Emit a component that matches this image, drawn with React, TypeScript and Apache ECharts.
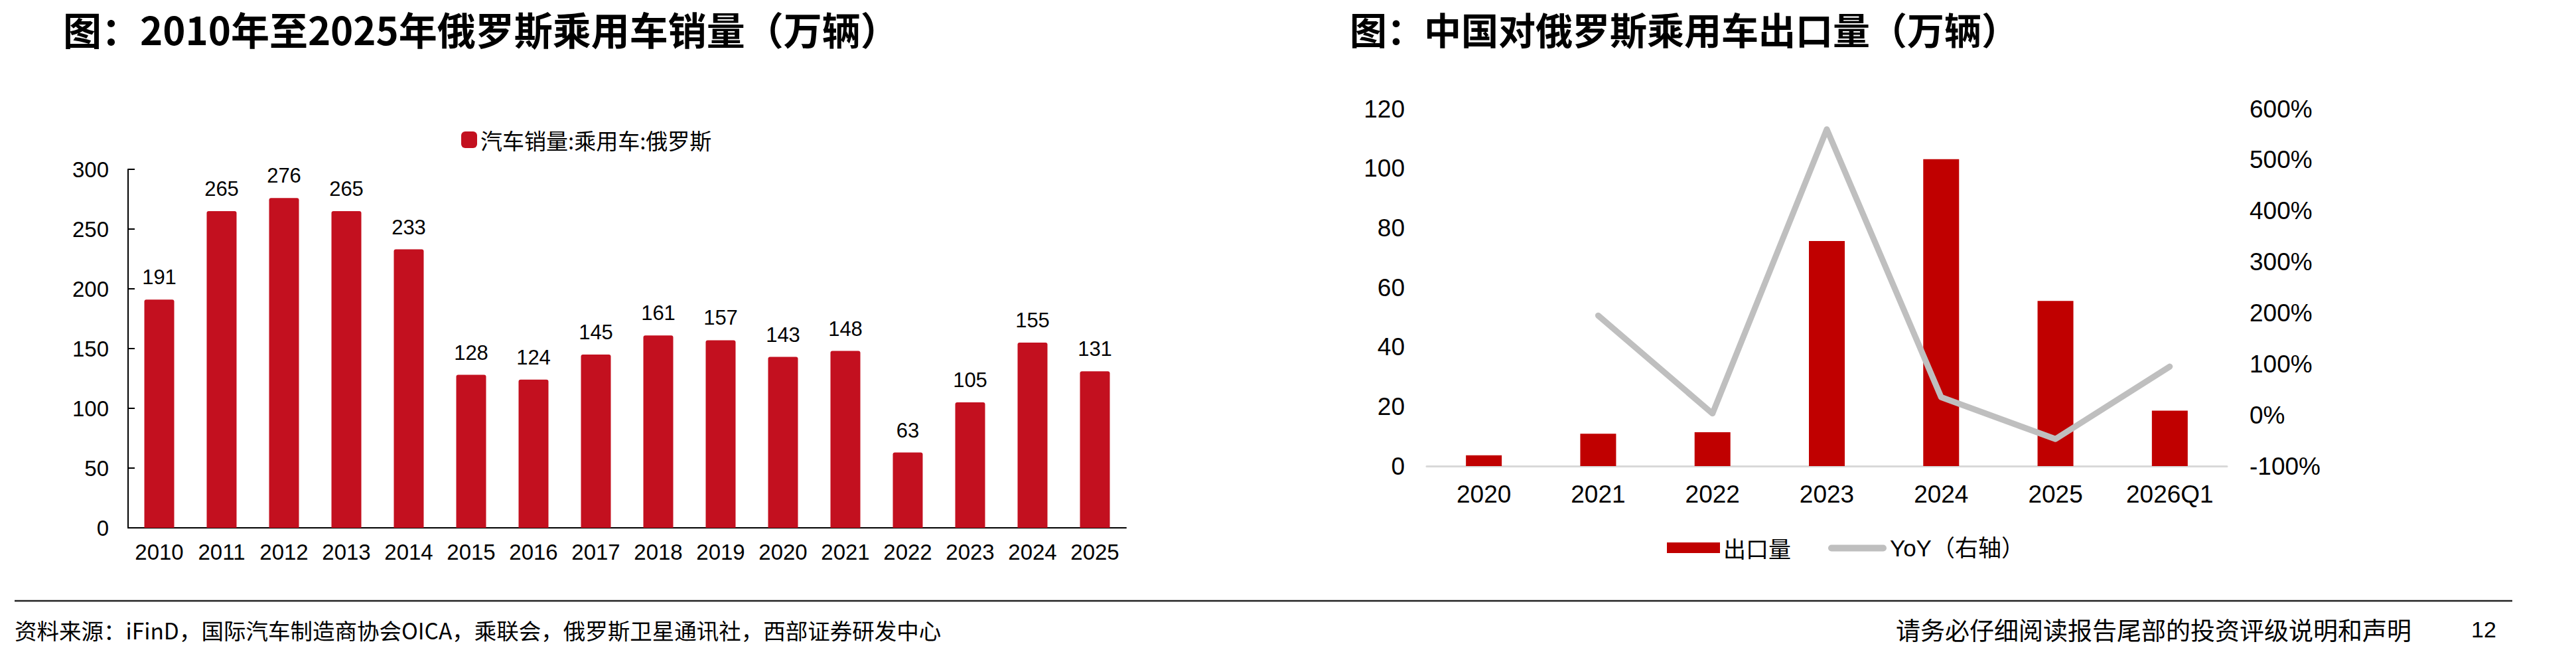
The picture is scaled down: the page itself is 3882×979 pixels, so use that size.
import React, { useEffect, useRef } from "react";
import * as echarts from "echarts";

// Russian passenger-car sales, 2010–2025 (10k units)
const salesYears = ["2010", "2011", "2012", "2013", "2014", "2015", "2016", "2017", "2018", "2019", "2020", "2021", "2022", "2023", "2024", "2025"];
const salesValues = [191, 265, 276, 265, 233, 128, 124, 145, 161, 157, 143, 148, 63, 105, 155, 131];
const salesTicks = { min: 0, max: 300, interval: 50 };

// China passenger-car exports to Russia (10k units) and YoY (%)
const exportPeriods = ["2020", "2021", "2022", "2023", "2024", "2025", "2026Q1"];
const exportValues = [3.6, 10.9, 11.4, 75.6, 103.1, 55.5, 18.6];
const exportYoY = [null, 195, 3, 560, 35, -47, 95];
const exportTicks = { min: 0, max: 120, interval: 20 };
const yoyTicks = { min: -100, max: 600, interval: 100 };

const leftTitle = "图：2010年至2025年俄罗斯乘用车销量（万辆）";
const rightTitle = "图：中国对俄罗斯乘用车出口量（万辆）";
const salesSeriesName = "汽车销量:乘用车:俄罗斯";
const exportSeriesName = "出口量";
const yoySeriesName = "YoY（右轴）";
const sourceText = "资料来源：iFinD，国际汽车制造商协会OICA，乘联会，俄罗斯卫星通讯社，西部证券研发中心";
const disclaimerText = "请务必仔细阅读报告尾部的投资评级说明和声明";
const pageNumber = "12";

const FONT = "'Liberation Sans', 'Noto Sans CJK SC', sans-serif";
const CJK = "'Noto Sans CJK SC', 'Liberation Sans', sans-serif";

// capsule-shaped legend marker for the YoY line
const capsuleIcon = "path://M5,0 H83 A5,5 0 0 1 83,10 H5 A5,5 0 0 1 5,0 Z";

export default function App() {
  const ref = useRef<HTMLDivElement>(null);

  useEffect(() => {
    document.body.style.margin = "0";
    if (!ref.current) return;
    const chart = echarts.init(ref.current, undefined, { renderer: "svg" });

    const option: any = {
      animation: false,
      backgroundColor: "#ffffff",
      textStyle: { fontFamily: FONT, color: "#000" },
      title: [
        {
          text: leftTitle,
          left: 95,
          top: 14,
          padding: 0,
          textStyle: { fontFamily: CJK, fontSize: 58, lineHeight: 58, fontWeight: "bold", color: "#000" },
        },
        {
          text: rightTitle,
          left: 2034,
          top: 14,
          padding: 0,
          textStyle: { fontFamily: CJK, fontSize: 56, lineHeight: 56, fontWeight: "bold", color: "#000" },
        },
      ],
      legend: [
        {
          data: [salesSeriesName],
          left: 695,
          top: 194,
          padding: 0,
          icon: "roundRect",
          itemWidth: 24,
          itemHeight: 25,
          textStyle: { fontFamily: CJK, fontSize: 33, color: "#000" },
        },
        {
          data: [exportSeriesName],
          left: 2512,
          top: 808,
          padding: 0,
          icon: "rect",
          itemWidth: 80,
          itemHeight: 16,
          textStyle: { fontFamily: CJK, fontSize: 34, color: "#000" },
        },
        {
          data: [{ name: yoySeriesName, icon: capsuleIcon, itemStyle: { color: "#BFBFBF" } }],
          left: 2755,
          top: 808,
          padding: 0,
          itemWidth: 88,
          itemHeight: 10,
          textStyle: { fontFamily: FONT, fontSize: 35, color: "#000" },
        },
      ],
      grid: [
        { left: 193, top: 255, width: 1504, height: 540 },
        { left: 2150, top: 164, width: 1206, height: 538 },
      ],
      xAxis: [
        {
          type: "category",
          gridIndex: 0,
          data: salesYears,
          axisLine: { lineStyle: { color: "#000", width: 2 } },
          axisTick: { inside: true, length: 10, lineStyle: { color: "#000", width: 2 } },
          axisLabel: { interval: 0, fontSize: 33, color: "#000", margin: 20, fontFamily: FONT },
        },
        {
          type: "category",
          gridIndex: 1,
          data: exportPeriods,
          axisLine: { lineStyle: { color: "#D9D9D9", width: 3 } },
          axisTick: { show: false },
          axisLabel: { interval: 0, fontSize: 37, color: "#000", margin: 24, fontFamily: FONT },
        },
      ],
      yAxis: [
        {
          type: "value",
          gridIndex: 0,
          ...salesTicks,
          axisLine: { show: true, lineStyle: { color: "#000", width: 2 } },
          axisTick: { show: true, inside: true, length: 10, lineStyle: { color: "#000", width: 2 } },
          axisLabel: { fontSize: 33, color: "#000", margin: 29, fontFamily: FONT },
          splitLine: { show: false },
        },
        {
          type: "value",
          gridIndex: 1,
          ...exportTicks,
          axisLine: { show: false },
          axisTick: { show: false },
          axisLabel: { fontSize: 37, color: "#000", margin: 33, fontFamily: FONT },
          splitLine: { show: false },
        },
        {
          type: "value",
          gridIndex: 1,
          position: "right",
          ...yoyTicks,
          axisLine: { show: false },
          axisTick: { show: false },
          axisLabel: { fontSize: 37, color: "#000", margin: 34, formatter: "{value}%", fontFamily: FONT },
          splitLine: { show: false },
        },
      ],
      series: [
        {
          name: salesSeriesName,
          type: "bar",
          xAxisIndex: 0,
          yAxisIndex: 0,
          data: salesValues,
          barWidth: 45,
          itemStyle: { color: "#C3101F", borderRadius: [3, 3, 0, 0] },
          label: { show: true, position: "top", distance: 18, fontSize: 31, color: "#000", fontFamily: FONT },
        },
        {
          name: exportSeriesName,
          type: "bar",
          xAxisIndex: 1,
          yAxisIndex: 1,
          data: exportValues,
          barWidth: 54,
          itemStyle: { color: "#C00000" },
        },
        {
          name: yoySeriesName,
          type: "line",
          xAxisIndex: 1,
          yAxisIndex: 2,
          data: exportYoY,
          symbol: "none",
          showSymbol: false,
          connectNulls: false,
          itemStyle: { color: "#BFBFBF" },
          lineStyle: { color: "#BFBFBF", width: 9, cap: "round", join: "round" },
        },
      ],
      graphic: [
        {
          type: "line",
          shape: { x1: 22, y1: 905, x2: 3786, y2: 905 },
          style: { stroke: "#222", lineWidth: 2.5 },
        },
        {
          type: "text",
          x: 22,
          y: 948,
          style: { text: sourceText, fontSize: 33.5, fontFamily: CJK, fill: "#000", verticalAlign: "middle" },
        },
        {
          type: "text",
          x: 2857,
          y: 948,
          style: { text: disclaimerText, fontSize: 37, fontFamily: CJK, fill: "#000", verticalAlign: "middle" },
        },
        {
          type: "text",
          x: 3724,
          y: 948,
          style: { text: pageNumber, fontSize: 34, fontFamily: FONT, fill: "#000", verticalAlign: "middle" },
        },
      ],
    };

    chart.setOption(option);
    return () => chart.dispose();
  }, []);

  return <div ref={ref} style={{ width: 3882, height: 979 }} />;
}
